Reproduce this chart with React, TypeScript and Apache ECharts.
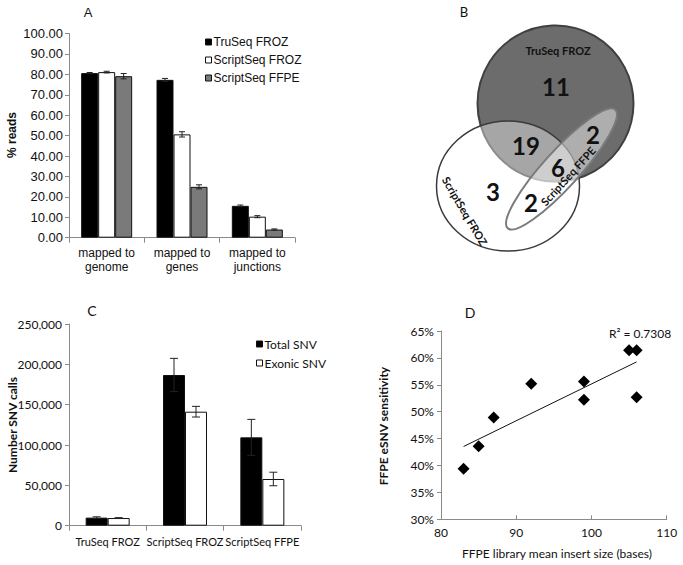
import React, { useEffect, useRef } from "react";
import * as echarts from "echarts";

// Panel A
const catsA = ["mapped to\ngenome", "mapped to\ngenes", "mapped to\njunctions"];
const namesA = ["TruSeq FROZ", "ScriptSeq FROZ", "ScriptSeq FFPE"];
const truSeqFroz = [80.6, 77.3, 15.6];
const scriptSeqFroz = [81.1, 50.6, 10.3];
const scriptSeqFfpe = [79.1, 24.9, 4.0];
const truSeqFrozErr = [0.3, 0.7, 0.4];
const scriptSeqFrozErr = [0.4, 1.3, 0.5];
const scriptSeqFfpeErr = [1.3, 1.0, 0.3];

// Panel C
const catsC = ["TruSeq FROZ", "ScriptSeq FROZ", "ScriptSeq FFPE"];
const namesC = ["Total SNV", "Exonic SNV"];
const totalSnv = [10000, 186800, 109500];
const exonicSnv = [9500, 141300, 57900];
const totalSnvErr = [1000, 20600, 22300];
const exonicSnvErr = [500, 6600, 8400];

// Panel D
const insertSize = [83, 85, 87, 92, 99, 99, 105, 106, 106];
const sensitivity = [39.4, 43.6, 48.9, 55.2, 55.6, 52.2, 61.4, 61.4, 52.7];
const r2Label = "R² = 0.7308";

// Panel B (Venn counts)
const vennCounts = { truOnly: "11", truScript: "19", truFfpe: "2", all: "6", scriptOnly: "3", scriptFfpe: "2" };

const SANS = "Liberation Sans, Arial, sans-serif";
const CAL = "Lato, Open Sans, sans-serif";

function errSeries(data: number[], errs: number[], k: number, n: number, bw: number, axis: number, cap: number) {
  return {
    type: "custom",
    xAxisIndex: axis,
    yAxisIndex: axis,
    z: 5,
    silent: true,
    data: data.map((v, i) => [i, v, errs[i]]),
    renderItem: (params: any, api: any) => {
      const i = api.value(0);
      const v = api.value(1);
      const e = api.value(2);
      const c = api.coord([i, v]);
      const x = c[0] + (k - (n - 1) / 2) * bw;
      const yt = api.coord([i, v + e])[1];
      const yb = api.coord([i, v - e])[1];
      const s = { stroke: "#222", lineWidth: 1 };
      return {
        type: "group",
        children: [
          { type: "line", shape: { x1: x, y1: yt, x2: x, y2: yb }, style: s },
          { type: "line", shape: { x1: x - cap, y1: yt, x2: x + cap, y2: yt }, style: s },
          { type: "line", shape: { x1: x - cap, y1: yb, x2: x + cap, y2: yb }, style: s },
        ],
      };
    },
  };
}

export default function App() {
  const ref = useRef<HTMLDivElement>(null);
  useEffect(() => {
    if (!ref.current) return;
    const chart = echarts.init(ref.current, null, { renderer: "svg" });

    // regression line
    const n = insertSize.length;
    const mx = insertSize.reduce((a, b) => a + b, 0) / n;
    const my = sensitivity.reduce((a, b) => a + b, 0) / n;
    let sxy = 0, sxx = 0;
    for (let i = 0; i < n; i++) {
      sxy += (insertSize[i] - mx) * (sensitivity[i] - my);
      sxx += (insertSize[i] - mx) ** 2;
    }
    const slope = sxy / sxx;
    const xMin = Math.min(...insertSize);
    const xMax = Math.max(...insertSize);
    const trend = [
      [xMin, my + slope * (xMin - mx)],
      [xMax, my + slope * (xMax - mx)],
    ];

    const axisLine = { lineStyle: { color: "#8a8a8a", width: 1 } };
    const bwA = 17;
    const bwC = 22;
    const colorsA = ["#000000", "#ffffff", "#7a7a7a"];
    const valsA = [truSeqFroz, scriptSeqFroz, scriptSeqFfpe];
    const errsA = [truSeqFrozErr, scriptSeqFrozErr, scriptSeqFfpeErr];
    const colorsC = ["#000000", "#ffffff"];
    const valsC = [totalSnv, exonicSnv];
    const errsC = [totalSnvErr, exonicSnvErr];

    const txt = (text: string, x: number, y: number, size: number, font: string, rot = 0, weight: any = "bold") => ({
      type: "text",
      x,
      y,
      rotation: rot,
      style: { text, fill: "#111", font: `${weight} ${size}px ${font}`, textAlign: "center", textVerticalAlign: "middle" },
    });

    const option: any = {
      animation: false,
      backgroundColor: "#fff",
      grid: [
        { left: 69, top: 33.5, width: 226, height: 204.2 },
        { left: 69, top: 324, width: 232, height: 201.7 },
        { left: 441, top: 331, width: 225.7, height: 188.3 },
      ],
      legend: [
        {
          data: namesA,
          orient: "vertical",
          left: 200,
          top: 31,
          itemWidth: 6,
          itemHeight: 6,
          itemGap: 6,
          icon: "rect",
          itemStyle: { borderWidth: 1 },
          textStyle: { fontFamily: SANS, fontSize: 12, color: "#111", padding: [0, 0, 0, -3] },
        },
        {
          data: namesC,
          orient: "vertical",
          left: 251,
          top: 333,
          itemWidth: 6,
          itemHeight: 6,
          itemGap: 7,
          icon: "rect",
          itemStyle: { borderWidth: 1 },
          textStyle: { fontFamily: CAL, fontSize: 12, color: "#111", padding: [0, 0, 0, -3] },
        },
      ],
      xAxis: [
        {
          type: "category",
          gridIndex: 0,
          data: catsA,
          axisLine,
          axisTick: { show: true, length: 5, lineStyle: { color: "#8a8a8a" } },
          axisLabel: { interval: 0, fontFamily: SANS, fontSize: 12, color: "#111", lineHeight: 14, margin: 8 },
        },
        {
          type: "category",
          gridIndex: 1,
          data: catsC,
          axisLine,
          axisTick: { show: true, length: 5, lineStyle: { color: "#8a8a8a" } },
          axisLabel: { interval: 0, fontFamily: CAL, fontSize: 11, color: "#111", margin: 10 },
        },
        {
          type: "value",
          gridIndex: 2,
          min: 80,
          max: 110,
          interval: 10,
          axisLine,
          splitLine: { show: false },
          axisTick: { show: true, inside: true, length: 4, lineStyle: { color: "#8a8a8a" } },
          axisLabel: { fontFamily: CAL, fontSize: 12, color: "#111", margin: 7 },
        },
      ],
      yAxis: [
        {
          type: "value",
          gridIndex: 0,
          min: 0,
          max: 100,
          interval: 10,
          axisLine: { show: true, ...axisLine },
          splitLine: { show: false },
          axisTick: { show: true, length: 4, lineStyle: { color: "#8a8a8a" } },
          axisLabel: { fontFamily: SANS, fontSize: 13, color: "#111", margin: 6, formatter: (v: number) => v.toFixed(2) },
        },
        {
          type: "value",
          gridIndex: 1,
          min: 0,
          max: 250000,
          interval: 50000,
          axisLine: { show: true, ...axisLine },
          splitLine: { show: false },
          axisTick: { show: true, length: 4, lineStyle: { color: "#8a8a8a" } },
          axisLabel: { fontFamily: CAL, fontSize: 12, color: "#111", margin: 7, formatter: (v: number) => v.toLocaleString("en-US") },
        },
        {
          type: "value",
          gridIndex: 2,
          min: 30,
          max: 65,
          interval: 5,
          axisLine: { show: true, ...axisLine },
          splitLine: { show: false },
          axisTick: { show: true, length: 4, lineStyle: { color: "#8a8a8a" } },
          axisLabel: { fontFamily: CAL, fontSize: 12, color: "#111", margin: 7, formatter: (v: number) => v + "%" },
        },
      ],
      series: [
        ...namesA.map((name, k) => ({
          type: "bar",
          name,
          xAxisIndex: 0,
          yAxisIndex: 0,
          barWidth: bwA,
          barGap: "0%",
          data: valsA[k],
          itemStyle: { color: colorsA[k], borderColor: "#111", borderWidth: 1 },
        })),
        ...namesA.map((_, k) => errSeries(valsA[k], errsA[k], k, 3, bwA, 0, 3)),
        ...namesC.map((name, k) => ({
          type: "bar",
          name,
          xAxisIndex: 1,
          yAxisIndex: 1,
          barWidth: bwC,
          barGap: "0%",
          data: valsC[k],
          itemStyle: { color: colorsC[k], borderColor: "#111", borderWidth: 1 },
        })),
        ...namesC.map((_, k) => errSeries(valsC[k], errsC[k], k, 2, bwC, 1, 4)),
        {
          type: "scatter",
          xAxisIndex: 2,
          yAxisIndex: 2,
          symbol: "diamond",
          symbolSize: 12,
          itemStyle: { color: "#000", opacity: 1 },
          data: insertSize.map((x, i) => [x, sensitivity[i]]),
          z: 4,
        },
        {
          type: "line",
          xAxisIndex: 2,
          yAxisIndex: 2,
          data: trend,
          symbol: "none",
          lineStyle: { color: "#111", width: 1 },
          z: 3,
        },
      ],
      graphic: [
        // panel letters
        txt("A", 88, 12, 13, SANS, 0, "normal"),
        txt("B", 464, 12, 13, CAL, 0, "normal"),
        txt("C", 92, 310, 14, CAL, 0, "normal"),
        txt("D", 470, 312, 14, CAL, 0, "normal"),
        // axis titles
        txt("% reads", 12, 135, 12, SANS, Math.PI / 2),
        txt("Number SNV calls", 12, 425, 12, CAL, Math.PI / 2),
        txt("FFPE eSNV sensitivity", 383, 426, 12, CAL, Math.PI / 2),
        txt("FFPE library mean insert size (bases)", 557, 553, 12, CAL, 0, "normal"),
        txt(r2Label, 640, 333, 12, CAL, 0, "normal"),
        // Venn
        {
          type: "circle",
          shape: { cx: 555.5, cy: 103.5, r: 78 },
          style: { fill: "#6c6c6c", stroke: "#404040", lineWidth: 2 },
        },
        {
          type: "ellipse",
          shape: { cx: 508, cy: 186, rx: 71.5, ry: 65 },
          style: { fill: "rgba(255,255,255,0.4)", stroke: "#3a3a3a", lineWidth: 1.5 },
        },
        {
          type: "ellipse",
          x: 561.5,
          y: 169,
          rotation: 0.834,
          shape: { cx: 0, cy: 0, rx: 80, ry: 18 },
          style: { fill: "rgba(255,255,255,0.45)", stroke: "#7a7a7a", lineWidth: 2 },
        },
        txt("TruSeq FROZ", 558, 50, 11, CAL),
        txt(vennCounts.truOnly, 556, 86, 24, CAL),
        txt(vennCounts.truScript, 526, 145, 24, CAL),
        txt(vennCounts.truFfpe, 593, 134, 24, CAL),
        txt(vennCounts.all, 558, 167, 24, CAL),
        txt(vennCounts.scriptOnly, 493, 191, 24, CAL),
        txt(vennCounts.scriptFfpe, 531, 202, 24, CAL),
        txt("ScriptSeq FROZ", 465, 211, 11, CAL, -1.04),
        txt("ScriptSeq FFPE", 568, 176, 11, CAL, 0.83),
      ],
    };
    chart.setOption(option);
    return () => chart.dispose();
  }, []);
  return <div ref={ref} style={{ position: "absolute", left: 0, top: 0, width: 683, height: 565 }} />;
}
